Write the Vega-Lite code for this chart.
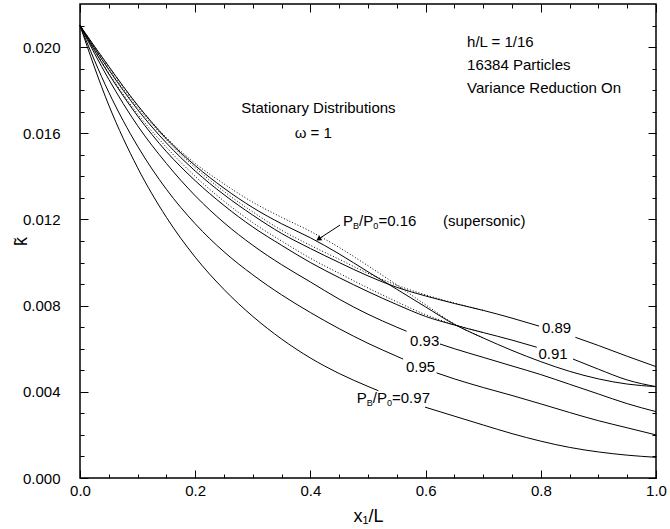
{
  "$schema": "https://vega.github.io/schema/vega-lite/v6.json",
  "width": 576,
  "height": 474,
  "autosize": {"type": "none"},
  "padding": {"left": 80, "top": 4, "right": 14, "bottom": 51},
  "background": "white",
  "config": {
    "view": {"stroke": "black", "strokeWidth": 1.5},
    "font": "Liberation Sans",
    "text": {"font": "Liberation Sans", "color": "black"}
  },
  "datasets": {
    "solid": [
      {"s":"ss","x":0,"k":0.021},{"s":"ss","x":0.05,"k":0.0191},{"s":"ss","x":0.1,"k":0.0173},{"s":"ss","x":0.15,"k":0.01575},{"s":"ss","x":0.2,"k":0.0145},{"s":"ss","x":0.25,"k":0.01345},{"s":"ss","x":0.3,"k":0.01255},{"s":"ss","x":0.35,"k":0.0118},{"s":"ss","x":0.4,"k":0.01115},{"s":"ss","x":0.45,"k":0.0104},{"s":"ss","x":0.5,"k":0.00957},{"s":"ss","x":0.55,"k":0.00876},{"s":"ss","x":0.6,"k":0.00794},{"s":"ss","x":0.65,"k":0.00713},{"s":"ss","x":0.7,"k":0.0065},{"s":"ss","x":0.75,"k":0.00592},{"s":"ss","x":0.8,"k":0.0054},{"s":"ss","x":0.85,"k":0.00495},{"s":"ss","x":0.9,"k":0.0046},{"s":"ss","x":0.95,"k":0.00436},{"s":"ss","x":1.0,"k":0.00424},

      {"s":"89a","x":0,"k":0.021},{"s":"89a","x":0.05,"k":0.01895},{"s":"89a","x":0.1,"k":0.0171},{"s":"89a","x":0.15,"k":0.01555},{"s":"89a","x":0.2,"k":0.01425},{"s":"89a","x":0.25,"k":0.01315},{"s":"89a","x":0.3,"k":0.0122},{"s":"89a","x":0.35,"k":0.01135},{"s":"89a","x":0.4,"k":0.01065},{"s":"89a","x":0.45,"k":0.01},{"s":"89a","x":0.5,"k":0.00938},{"s":"89a","x":0.55,"k":0.00885},{"s":"89a","x":0.6,"k":0.00845},{"s":"89a","x":0.65,"k":0.0081},{"s":"89a","x":0.7,"k":0.00778},{"s":"89a","x":0.75,"k":0.00742},{"s":"89a","x":0.797,"k":0.00705},
      {"s":"89b","x":0.86,"k":0.00653},{"s":"89b","x":0.9,"k":0.00615},{"s":"89b","x":0.95,"k":0.00565},{"s":"89b","x":1.0,"k":0.00517},

      {"s":"91a","x":0,"k":0.021},{"s":"91a","x":0.05,"k":0.01875},{"s":"91a","x":0.1,"k":0.0168},{"s":"91a","x":0.15,"k":0.01515},{"s":"91a","x":0.2,"k":0.0138},{"s":"91a","x":0.25,"k":0.01265},{"s":"91a","x":0.3,"k":0.01165},{"s":"91a","x":0.35,"k":0.0108},{"s":"91a","x":0.4,"k":0.01},{"s":"91a","x":0.45,"k":0.0093},{"s":"91a","x":0.5,"k":0.00865},{"s":"91a","x":0.55,"k":0.00805},{"s":"91a","x":0.6,"k":0.0075},{"s":"91a","x":0.65,"k":0.0071},{"s":"91a","x":0.7,"k":0.00675},{"s":"91a","x":0.75,"k":0.0064},{"s":"91a","x":0.793,"k":0.00607},
      {"s":"91b","x":0.856,"k":0.00552},{"s":"91b","x":0.9,"k":0.00505},{"s":"91b","x":0.95,"k":0.00455},{"s":"91b","x":1.0,"k":0.00424},

      {"s":"93a","x":0,"k":0.021},{"s":"93a","x":0.05,"k":0.0185},{"s":"93a","x":0.1,"k":0.01635},{"s":"93a","x":0.15,"k":0.0146},{"s":"93a","x":0.2,"k":0.0131},{"s":"93a","x":0.25,"k":0.01185},{"s":"93a","x":0.3,"k":0.0108},{"s":"93a","x":0.35,"k":0.0099},{"s":"93a","x":0.4,"k":0.0091},{"s":"93a","x":0.45,"k":0.0083},{"s":"93a","x":0.5,"k":0.0076},{"s":"93a","x":0.55,"k":0.007},{"s":"93a","x":0.567,"k":0.00681},
      {"s":"93b","x":0.625,"k":0.00622},{"s":"93b","x":0.65,"k":0.006},{"s":"93b","x":0.7,"k":0.0056},{"s":"93b","x":0.75,"k":0.0052},{"s":"93b","x":0.8,"k":0.0048},{"s":"93b","x":0.85,"k":0.00435},{"s":"93b","x":0.9,"k":0.0039},{"s":"93b","x":0.95,"k":0.00345},{"s":"93b","x":1.0,"k":0.00308},

      {"s":"95a","x":0,"k":0.021},{"s":"95a","x":0.05,"k":0.0179},{"s":"95a","x":0.1,"k":0.0154},{"s":"95a","x":0.15,"k":0.0134},{"s":"95a","x":0.2,"k":0.0118},{"s":"95a","x":0.25,"k":0.0105},{"s":"95a","x":0.3,"k":0.00943},{"s":"95a","x":0.35,"k":0.0085},{"s":"95a","x":0.4,"k":0.00768},{"s":"95a","x":0.45,"k":0.00693},{"s":"95a","x":0.5,"k":0.00625},{"s":"95a","x":0.55,"k":0.00565},{"s":"95a","x":0.561,"k":0.00552},
      {"s":"95b","x":0.619,"k":0.00488},{"s":"95b","x":0.65,"k":0.0046},{"s":"95b","x":0.7,"k":0.0042},{"s":"95b","x":0.75,"k":0.00383},{"s":"95b","x":0.8,"k":0.00344},{"s":"95b","x":0.85,"k":0.00304},{"s":"95b","x":0.9,"k":0.00266},{"s":"95b","x":0.95,"k":0.00233},{"s":"95b","x":1.0,"k":0.002},

      {"s":"97a","x":0,"k":0.021},{"s":"97a","x":0.05,"k":0.0173},{"s":"97a","x":0.1,"k":0.0144},{"s":"97a","x":0.15,"k":0.0121},{"s":"97a","x":0.2,"k":0.01025},{"s":"97a","x":0.25,"k":0.00875},{"s":"97a","x":0.3,"k":0.0075},{"s":"97a","x":0.35,"k":0.00645},{"s":"97a","x":0.4,"k":0.00557},{"s":"97a","x":0.45,"k":0.00485},{"s":"97a","x":0.5,"k":0.00425},{"s":"97a","x":0.518,"k":0.00405},
      {"s":"97b","x":0.599,"k":0.00329},{"s":"97b","x":0.65,"k":0.00287},{"s":"97b","x":0.7,"k":0.00246},{"s":"97b","x":0.75,"k":0.00206},{"s":"97b","x":0.8,"k":0.00171},{"s":"97b","x":0.85,"k":0.00142},{"s":"97b","x":0.9,"k":0.00121},{"s":"97b","x":0.95,"k":0.00106},{"s":"97b","x":1.0,"k":0.00096}
    ],
    "dotted": [
      {"s":"ss","x":0,"k":0.021},{"s":"ss","x":0.05,"k":0.0191},{"s":"ss","x":0.1,"k":0.0173},{"s":"ss","x":0.15,"k":0.0158},{"s":"ss","x":0.2,"k":0.0146},{"s":"ss","x":0.25,"k":0.01365},{"s":"ss","x":0.3,"k":0.0128},{"s":"ss","x":0.35,"k":0.0121},{"s":"ss","x":0.4,"k":0.01145},{"s":"ss","x":0.45,"k":0.0107},{"s":"ss","x":0.5,"k":0.00985},{"s":"ss","x":0.55,"k":0.00896},{"s":"ss","x":0.6,"k":0.00804},{"s":"ss","x":0.65,"k":0.00715},{"s":"ss","x":0.7,"k":0.0065},
      {"s":"89","x":0,"k":0.021},{"s":"89","x":0.05,"k":0.019},{"s":"89","x":0.1,"k":0.0172},{"s":"89","x":0.15,"k":0.0157},{"s":"89","x":0.2,"k":0.0144},{"s":"89","x":0.25,"k":0.0133},{"s":"89","x":0.3,"k":0.01235},{"s":"89","x":0.35,"k":0.0115},{"s":"89","x":0.4,"k":0.0108},{"s":"89","x":0.45,"k":0.01015},{"s":"89","x":0.5,"k":0.0095},{"s":"89","x":0.55,"k":0.00895},{"s":"89","x":0.6,"k":0.0085},{"s":"89","x":0.65,"k":0.00812},{"s":"89","x":0.7,"k":0.00778},
      {"s":"91","x":0,"k":0.021},{"s":"91","x":0.05,"k":0.0188},{"s":"91","x":0.1,"k":0.0169},{"s":"91","x":0.15,"k":0.01535},{"s":"91","x":0.2,"k":0.014},{"s":"91","x":0.25,"k":0.01285},{"s":"91","x":0.3,"k":0.01185},{"s":"91","x":0.35,"k":0.011},{"s":"91","x":0.4,"k":0.0102},{"s":"91","x":0.45,"k":0.0095},{"s":"91","x":0.5,"k":0.00882},{"s":"91","x":0.55,"k":0.00818},{"s":"91","x":0.6,"k":0.00758},{"s":"91","x":0.65,"k":0.00712},{"s":"91","x":0.7,"k":0.00675}
    ],
    "labels": [
      {"t":"h/L = 1/16","x":0.672,"k":0.0200},
      {"t":"16384 Particles","x":0.672,"k":0.01893},
      {"t":"Variance Reduction On","x":0.672,"k":0.01787},
      {"t":"P","x":0.4566,"k":0.01169},
      {"t":"/P","x":0.4844,"k":0.01169},
      {"t":"=0.16","x":0.5182,"k":0.01169},
      {"t":"(supersonic)","x":0.6302,"k":0.01169},
      {"t":"0.89","x":0.802,"k":0.00671},
      {"t":"0.91","x":0.796,"k":0.00552},
      {"t":"0.93","x":0.573,"k":0.00613},
      {"t":"0.95","x":0.566,"k":0.0049},
      {"t":"P","x":0.4804,"k":0.00347},
      {"t":"/P","x":0.5082,"k":0.00347},
      {"t":"=0.97","x":0.5417,"k":0.00347}
    ],
    "subs": [
      {"t":"B","x":0.474,"k":0.01169},
      {"t":"0","x":0.509,"k":0.01169},
      {"t":"B","x":0.4977,"k":0.00347},
      {"t":"0","x":0.5328,"k":0.00347}
    ],
    "centered": [
      {"t":"Stationary Distributions","x":0.414,"k":0.01692},
      {"t":"ω = 1","x":0.405,"k":0.01576}
    ],
    "arrow": [
      {"x":0.4514,"k":0.01174,"x2":0.4153,"k2":0.01111}
    ]
  },
  "resolve": {"axis": {"x": "independent", "y": "independent"}},
  "layer": [
    {
      "data": {"name": "solid"},
      "mark": {"type": "line", "color": "black", "strokeWidth": 1, "interpolate": "monotone"},
      "encoding": {
        "x": {"field": "x", "type": "quantitative", "scale": {"domain": [0, 1], "nice": false, "zero": false},
          "axis": {"orient": "bottom", "values": [0,0.05,0.1,0.15,0.2,0.25,0.3,0.35,0.4,0.45,0.5,0.55,0.6,0.65,0.7,0.75,0.8,0.85,0.9,0.95,1.0],
            "labelExpr": "(abs(datum.value*5-round(datum.value*5))<0.001)?format(datum.value,'.1f'):''",
            "tickSize": {"condition": {"test": "abs(datum.value*5-round(datum.value*5))<0.001", "value": -8}, "value": -4},
            "tickColor": "black", "tickWidth": 1, "domain": false, "grid": false,
            "labelFont": "Liberation Sans", "labelFontSize": 15, "labelColor": "black", "labelPadding": 13,
            "labelFlush": false, "labelOverlap": false, "labelBound": false,
            "title": "x₁/L", "titleFont": "Liberation Sans", "titleFontSize": 18, "titleFontWeight": "normal", "titleColor": "black",
            "titleY": 43, "titleBaseline": "alphabetic"}},
        "y": {"field": "k", "type": "quantitative", "scale": {"domain": [0, 0.022], "nice": false, "zero": false},
          "axis": {"orient": "left", "values": [0,0.001,0.002,0.003,0.004,0.005,0.006,0.007,0.008,0.009,0.01,0.011,0.012,0.013,0.014,0.015,0.016,0.017,0.018,0.019,0.02,0.021],
            "labelExpr": "(abs(datum.value*250-round(datum.value*250))<0.001)?format(datum.value,'.3f'):''",
            "tickSize": {"condition": {"test": "abs(datum.value*250-round(datum.value*250))<0.001", "value": -8}, "value": -4},
            "tickColor": "black", "tickWidth": 1, "domain": false, "grid": false,
            "labelFont": "Liberation Sans", "labelFontSize": 15, "labelColor": "black", "labelPadding": 28,
            "labelFlush": false, "labelOverlap": false, "labelBound": false,
            "title": "k̃", "titleFont": "Liberation Sans", "titleFontSize": 18, "titleFontWeight": "normal", "titleColor": "black",
            "titleX": -50, "titleY": 237, "titleAngle": -90, "titleBaseline": "bottom", "titleAlign": "center"}},
        "detail": {"field": "s", "type": "nominal"}
      }
    },
    {
      "data": {"name": "dotted"},
      "mark": {"type": "line", "color": "black", "strokeWidth": 1, "strokeDash": [1, 2], "interpolate": "monotone"},
      "encoding": {
        "x": {"field": "x", "type": "quantitative",
          "axis": {"orient": "top", "values": [0,0.05,0.1,0.15,0.2,0.25,0.3,0.35,0.4,0.45,0.5,0.55,0.6,0.65,0.7,0.75,0.8,0.85,0.9,0.95,1.0],
            "labels": false, "title": null, "domain": false, "grid": false, "tickColor": "black", "tickWidth": 1,
            "tickSize": {"condition": {"test": "abs(datum.value*5-round(datum.value*5))<0.001", "value": -8}, "value": -4}}},
        "y": {"field": "k", "type": "quantitative",
          "axis": {"orient": "right", "values": [0,0.001,0.002,0.003,0.004,0.005,0.006,0.007,0.008,0.009,0.01,0.011,0.012,0.013,0.014,0.015,0.016,0.017,0.018,0.019,0.02,0.021],
            "labels": false, "title": null, "domain": false, "grid": false, "tickColor": "black", "tickWidth": 1,
            "tickSize": {"condition": {"test": "abs(datum.value*250-round(datum.value*250))<0.001", "value": -8}, "value": -4}}},
        "detail": {"field": "s", "type": "nominal"}
      }
    },
    {
      "data": {"name": "arrow"},
      "mark": {"type": "rule", "color": "black", "strokeWidth": 1},
      "encoding": {
        "x": {"field": "x", "type": "quantitative", "axis": null},
        "y": {"field": "k", "type": "quantitative", "axis": null},
        "x2": {"field": "x2"},
        "y2": {"field": "k2"}
      }
    },
    {
      "data": {"name": "arrow"},
      "mark": {"type": "point", "shape": "triangle", "filled": true, "color": "black", "size": 35, "angle": 237, "opacity": 1},
      "encoding": {
        "x": {"field": "x2", "type": "quantitative", "axis": null},
        "y": {"field": "k2", "type": "quantitative", "axis": null}
      }
    },
    {
      "data": {"name": "labels"},
      "mark": {"type": "text", "align": "left", "baseline": "alphabetic", "fontSize": 15, "font": "Liberation Sans", "color": "black"},
      "encoding": {
        "x": {"field": "x", "type": "quantitative", "axis": null},
        "y": {"field": "k", "type": "quantitative", "axis": null},
        "text": {"field": "t"}
      }
    },
    {
      "data": {"name": "subs"},
      "mark": {"type": "text", "align": "left", "baseline": "alphabetic", "fontSize": 9, "dy": 3, "font": "Liberation Sans", "color": "black"},
      "encoding": {
        "x": {"field": "x", "type": "quantitative", "axis": null},
        "y": {"field": "k", "type": "quantitative", "axis": null},
        "text": {"field": "t"}
      }
    },
    {
      "data": {"name": "centered"},
      "mark": {"type": "text", "align": "center", "baseline": "alphabetic", "fontSize": 15, "font": "Liberation Sans", "color": "black"},
      "encoding": {
        "x": {"field": "x", "type": "quantitative", "axis": null},
        "y": {"field": "k", "type": "quantitative", "axis": null},
        "text": {"field": "t"}
      }
    }
  ]
}
